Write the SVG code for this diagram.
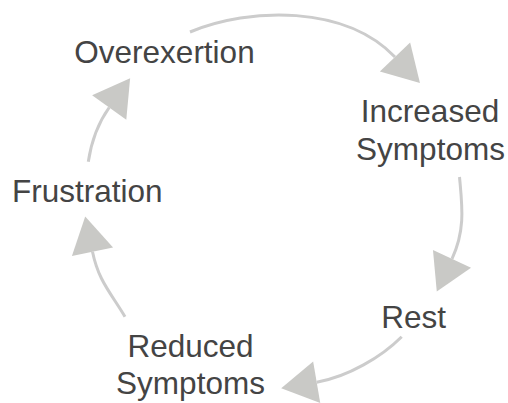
<svg xmlns="http://www.w3.org/2000/svg" width="508" height="403" viewBox="0 0 508 403">
<style>
  .lbl { font-family: "Liberation Sans", Arial, sans-serif; font-size: 31.5px; fill: #444444; text-anchor: middle; }
  .edge { fill: none; stroke: #cccccc; stroke-width: 3; marker-end: url(#arrow); }
</style>
<defs>
  <marker id="arrow" markerUnits="userSpaceOnUse" markerWidth="40" markerHeight="44" refX="0" refY="21" orient="auto" overflow="visible">
    <path d="M0,0 L36,21 L0,42 Z" fill="#c9c9c6"/>
  </marker>
</defs>
<rect width="508" height="403" fill="#ffffff"/>
<g id="connectors">
  <path class="edge" d="M190,32 C250,7 345,5 395,57"/>
  <path class="edge" d="M459.5,177 C462,205 465.8,229.2 452,258.8"/>
  <path class="edge" d="M401.7,336.7 C381.7,356.7 348.2,376.8 316.7,382.2"/>
  <path class="edge" d="M125,316.7 C110,291.7 98.5,280.7 92.5,251.7"/>
  <path class="edge" d="M88.3,161.7 C91.3,141.7 99.2,121.5 109.2,107.5"/>
</g>
<g id="overexertion"><text class="lbl" x="164.5" y="62.5">Overexertion</text></g>
<g id="increased-symptoms"><text class="lbl" x="430" y="121.7">Increased</text><text class="lbl" x="430.5" y="160">Symptoms</text></g>
<g id="rest"><text class="lbl" x="413.7" y="328">Rest</text></g>
<g id="reduced-symptoms"><text class="lbl" x="190.5" y="356.7">Reduced</text><text class="lbl" x="190.5" y="394">Symptoms</text></g>
<g id="frustration"><text class="lbl" x="87.3" y="201.7">Frustration</text></g>
</svg>
